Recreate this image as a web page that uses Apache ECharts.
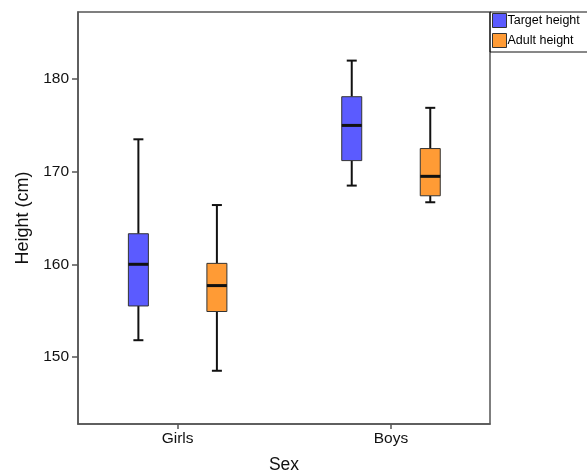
<!DOCTYPE html>
<html>
<head>
<meta charset="utf-8">
<script src="https://cdn.jsdelivr.net/npm/echarts@6/dist/echarts.min.js"></script>
<style>
  html, body { margin: 0; padding: 0; background: #fff; }
  #chart { width: 587px; height: 472px; }
</style>
</head>
<body>
<div id="chart"></div>
<script>
// categories and box statistics: [min, Q1, median, Q3, max]
const categories = ["Girls", "Boys"];
const targetHeight = [
  [151.8, 155.5, 160.0, 163.3, 173.5],
  [168.5, 171.2, 175.0, 178.1, 182.0],
];
const adultHeight = [
  [148.5, 154.9, 157.7, 160.1, 166.4],
  [166.7, 167.4, 169.5, 172.5, 176.9],
];
const yTicks = [150, 160, 170, 180];

const font = "Liberation Sans, Arial, Helvetica, sans-serif";
const blue = "#5b5bff";
const orange = "#ff9b35";

// group offset of each series from its category (in axis units)
const OFFSET = 0.184;

const toRows = (stats, shift) =>
  stats.map((s, i) => [i + 1 + shift, ...s]);

const renderBox = (params, api) => {
  const x = api.value(0);
  const pMin = api.coord([x, api.value(1)]);
  const pQ1 = api.coord([x, api.value(2)]);
  const pMed = api.coord([x, api.value(3)]);
  const pQ3 = api.coord([x, api.value(4)]);
  const pMax = api.coord([x, api.value(5)]);
  const cx = pMin[0];
  const half = 10;
  const cap = 5;
  const color = api.visual("color");
  const line = (x1, y1, x2, y2, w) => ({
    type: "line",
    shape: { x1, y1, x2, y2 },
    style: { stroke: "#111", lineWidth: w },
  });
  return {
    type: "group",
    children: [
      line(cx, pMax[1], cx, pQ3[1], 2),
      line(cx, pQ1[1], cx, pMin[1], 2),
      line(cx - cap, pMax[1], cx + cap, pMax[1], 2),
      line(cx - cap, pMin[1], cx + cap, pMin[1], 2),
      {
        type: "rect",
        shape: { x: cx - half, y: pQ3[1], width: half * 2, height: pQ1[1] - pQ3[1] },
        style: { fill: color, stroke: "#333", lineWidth: 1 },
      },
      line(cx - half, pMed[1], cx + half, pMed[1], 3),
    ],
  };
};

const chart = echarts.init(document.getElementById("chart"));
chart.setOption({
  animation: false,
  backgroundColor: "#fff",
  textStyle: { fontFamily: font },
  grid: {
    left: 78, top: 12, right: 97, bottom: 48,
    outerBoundsMode: "none",
    containLabel: false,
    show: true, borderColor: "#555", borderWidth: 1.5,
  },
  legend: {
    data: ["Target height", "Adult height"],
    orient: "vertical",
    left: 490, top: 12,
    padding: [1, 20, 4, 2],
    itemWidth: 14, itemHeight: 14, itemGap: 5,
    icon: "rect",
    borderColor: "#111", borderWidth: 1,
    itemStyle: { borderColor: "#333", borderWidth: 1 },
    textStyle: { fontSize: 12.5, color: "#000", fontFamily: font, padding: [0, 0, 0, -4] },
  },
  xAxis: {
    type: "value",
    min: 0.533, max: 2.464,
    name: "Sex",
    nameLocation: "middle",
    nameGap: 32,
    nameTextStyle: { fontSize: 17.5, color: "#111", fontFamily: font },
    splitLine: { show: false },
    axisLine: { show: true, lineStyle: { color: "#555", width: 1.5 } },
    axisTick: { show: true, length: 5, customValues: [1, 2], lineStyle: { color: "#555", width: 1.5 } },
    axisLabel: {
      customValues: [1, 2],
      formatter: (v) => categories[Math.round(v) - 1] ?? "",
      fontSize: 15.5, color: "#111", margin: 7, fontFamily: font,
    },
  },
  yAxis: {
    type: "value",
    min: 142.75, max: 187.25,
    name: "Height (cm)",
    nameLocation: "middle",
    nameGap: 46,
    nameTextStyle: { fontSize: 18, color: "#111", fontFamily: font },
    splitLine: { show: false },
    axisLine: { show: true, lineStyle: { color: "#555", width: 1.5 } },
    axisTick: { show: true, length: 6, customValues: yTicks, lineStyle: { color: "#555", width: 1.5 } },
    axisLabel: {
      customValues: yTicks,
      fontSize: 15.5, color: "#111", margin: 9, fontFamily: font,
    },
  },
  series: [
    {
      type: "custom",
      name: "Target height",
      itemStyle: { color: blue },
      renderItem: renderBox,
      encode: { x: 0, y: [1, 2, 3, 4, 5] },
      data: toRows(targetHeight, -OFFSET),
    },
    {
      type: "custom",
      name: "Adult height",
      itemStyle: { color: orange },
      renderItem: renderBox,
      encode: { x: 0, y: [1, 2, 3, 4, 5] },
      data: toRows(adultHeight, OFFSET),
    },
  ],
});
</script>
</body>
</html>
